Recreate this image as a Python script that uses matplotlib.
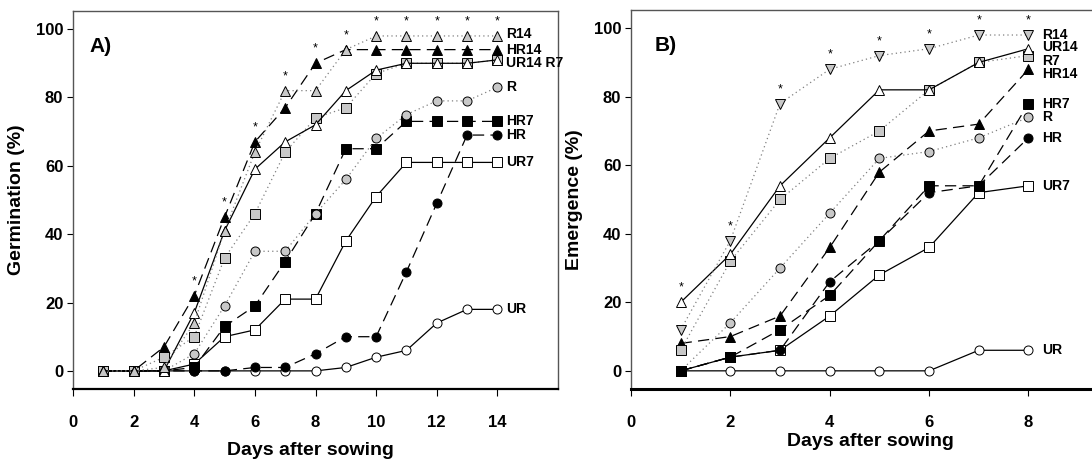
import numpy as np
import matplotlib.pyplot as plt

plt.rcParams['font.family'] = ['Liberation Sans', 'DejaVu Sans']
plt.rcParams['font.weight'] = 'bold'

# ---- data: panel A (germination), days 1..14
days_a = np.arange(1, 15)
germ = {
    'R14':  [0, 0, 1, 14, 41, 64, 82, 82, 94, 98, 98, 98, 98, 98],
    'HR14': [0, 0, 7, 22, 45, 67, 77, 90, 94, 94, 94, 94, 94, 94],
    'UR14': [0, 0, 0, 17, 41, 59, 67, 72, 82, 88, 90, 90, 90, 91],
    'R7':   [0, 0, 4, 10, 33, 46, 64, 74, 77, 87, 90, 90, 90, 91],
    'R':    [0, 0, 0, 5, 19, 35, 35, 46, 56, 68, 75, 79, 79, 83],
    'HR7':  [0, 0, 0, 1, 13, 19, 32, 46, 65, 65, 73, 73, 73, 73],
    'HR':   [0, 0, 0, 0, 0, 1, 1, 5, 10, 10, 29, 49, 69, 69],
    'UR7':  [0, 0, 0, 2, 10, 12, 21, 21, 38, 51, 61, 61, 61, 61],
    'UR':   [0, 0, 0, 0, 0, 0, 0, 0, 1, 4, 6, 14, 18, 18],
}
stars_a = [4, 5, 6, 7, 8, 9, 10, 11, 12, 13, 14]
labels_a = [('R14', 98.5), ('HR14', 94), ('UR14 R7', 90), ('R', 83),
            ('HR7', 73), ('HR', 69), ('UR7', 61), ('UR', 18)]

# ---- data: panel B (emergence), days 1..8
days_b = np.arange(1, 9)
emer = {
    'R14':  [12, 38, 78, 88, 92, 94, 98, 98],
    'UR14': [20, 34, 54, 68, 82, 82, 90, 94],
    'R7':   [6, 32, 50, 62, 70, 82, 90, 92],
    'HR14': [8, 10, 16, 36, 58, 70, 72, 88],
    'HR7':  [0, 4, 12, 22, 38, 54, 54, 78],
    'R':    [0, 14, 30, 46, 62, 64, 68, 74],
    'HR':   [0, 4, 6, 26, 38, 52, 54, 68],
    'UR7':  [0, 4, 6, 16, 28, 36, 52, 54],
    'UR':   [0, 0, 0, 0, 0, 0, 6, 6],
}
stars_b = [1, 2, 3, 4, 5, 6, 7, 8]
labels_b = [('R14', 98), ('UR14', 94.5), ('R7', 90.5), ('HR14', 86.5),
            ('HR7', 78), ('R', 74), ('HR', 68), ('UR7', 54), ('UR', 6)]

grey = '#c8c8c8'
sol = dict(color='black', ls='-', lw=0.9)
dsh = dict(color='black', ls=(0, (9, 5)), lw=0.9)
dot = dict(color='#808080', ls=(0, (1, 2.5)), lw=0.9)
style = {
    'R14a': dict(marker='^', mfc=grey, **dot),
    'R14b': dict(marker='v', mfc=grey, **dot),
    'HR14': dict(marker='^', mfc='black', **dsh),
    'UR14': dict(marker='^', mfc='white', **sol),
    'R7':   dict(marker='s', mfc=grey, **dot),
    'R':    dict(marker='o', mfc=grey, **dot),
    'HR7':  dict(marker='s', mfc='black', **dsh),
    'HR':   dict(marker='o', mfc='black', **dsh),
    'UR7':  dict(marker='s', mfc='white', **sol),
    'UR':   dict(marker='o', mfc='white', **sol),
}

fig = plt.figure(figsize=(10.92, 4.61), dpi=100)
W, H = 1092, 461


def panel(rect, days, data, stars, labels, xmax, tag, tag_x, key14, ylabel,
          xlab_x, xlab_y):
    ax = fig.add_axes([rect[0] / W, 1 - rect[3] / H, (rect[2] - rect[0]) / W,
                       (rect[3] - rect[1]) / H])
    for name in list(data.keys())[::-1]:
        st = style[key14 if name == 'R14' else name]
        ax.plot(days, data[name], ms=6.5, mec='black', mew=0.7,
                clip_on=False, **st)
    arr = np.array(list(data.values()))
    for d in stars:
        top = arr[:, list(days).index(d)].max()
        ax.text(d, top + 2.5, '*', ha='center', va='bottom', fontsize=9,
                fontweight='normal')
    for txt, y in labels:
        ax.text(days[-1] + 0.28, y, txt, ha='left', va='center', fontsize=10,
                fontweight='bold')
    ax.text(tag_x, 95, tag, fontsize=15, fontweight='bold', ha='left',
            va='center')
    ax.set_xlim(0, xmax)
    ax.set_ylim(-5.3, 105.3)
    ax.set_yticks(np.arange(0, 101, 20))
    ax.set_xticks(np.arange(0, days[-1] + 1, 2))
    ax.tick_params(axis='y', direction='out', length=4, width=0.8,
                   labelsize=12, pad=3)
    ax.tick_params(axis='x', direction='out', length=5, width=0.8,
                   labelsize=12, pad=14)
    for lab in ax.get_xticklabels() + ax.get_yticklabels():
        lab.set_fontweight('bold')
    for s in ['top', 'left', 'right']:
        ax.spines[s].set_color('#555555')
        ax.spines[s].set_linewidth(1.0)
    ax.spines['bottom'].set_linewidth(1.6)
    ax.set_ylabel(ylabel, fontsize=14, fontweight='bold', labelpad=8)
    ax.set_xlabel('Days after sowing', fontsize=14, fontweight='bold')
    ax.xaxis.set_label_coords(xlab_x, xlab_y)
    return ax


axA = panel((73, 11, 558, 389), days_a, germ, stars_a, labels_a, 16.0,
            'A)', 0.55, 'R14a', 'Germination (%)', 0.49, -0.14)
axB = panel((631, 10, 1092, 389), days_b, emer, stars_b, labels_b, 9.28,
            'B)', 0.48, 'R14b', 'Emergence (%)', 0.52, -0.115)
axB.spines['right'].set_visible(False)
axB.spines['bottom'].set_linewidth(2.2)
axB.spines['bottom'].set_color('black')

fig.savefig('out.png', dpi=100)
